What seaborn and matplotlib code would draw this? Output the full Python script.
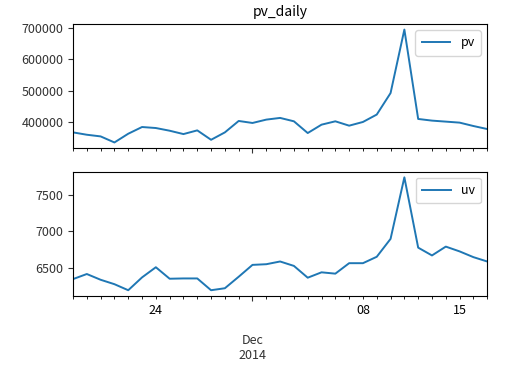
import numpy as np
import pandas as pd
import matplotlib
matplotlib.use("Agg")
import matplotlib.pyplot as plt
import matplotlib.dates as mdates
from matplotlib.ticker import FixedLocator, FixedFormatter
import seaborn as sns

dates = pd.date_range("2014-11-18", "2014-12-18", freq="D")
pv = [366800, 359300, 354000, 334700, 362500, 383900, 380700, 372100, 361400, 373200,
      343200, 366800, 403200, 396800, 407500, 412900, 402100, 364700, 391400, 402100,
      388200, 400000, 423600, 492100, 694500, 409600, 404300, 401100, 397900, 387100,
      377500]
uv = [6353, 6422, 6344, 6284, 6202, 6376, 6514, 6358, 6362, 6362,
      6202, 6229, 6385, 6546, 6555, 6592, 6532, 6372, 6445, 6427,
      6569, 6569, 6656, 6899, 7734, 6780, 6674, 6794, 6729, 6651,
      6592]
title = "pv_daily"
minor_labels = {"2014-11-24": "24", "2014-12-08": "08", "2014-12-15": "15"}
major_label = ("2014-12-01", "\n\nDec\n2014")

df = pd.DataFrame({"date": dates, "pv": pv, "uv": uv})

plt.rcParams["font.family"] = ["Noto Sans CJK SC", "DejaVu Sans"]
plt.rcParams["font.size"] = 9
plt.rcParams["axes.unicode_minus"] = False

fig, axes = plt.subplots(2, 1, figsize=(5.29, 3.68), dpi=100, sharex=True)
fig.subplots_adjust(left=0.138, right=0.921, top=0.935, bottom=0.196, hspace=0.19)

color = "#1f77b4"
for ax, col in zip(axes, ["pv", "uv"]):
    sns.lineplot(data=df, x="date", y=col, ax=ax, color=color, linewidth=1.4, label=col)
    ax.set_ylabel("")
    ax.legend(loc="upper right", fontsize=9, handlelength=2.3, borderpad=0.5)
    ax.tick_params(colors="#333333", labelcolor="#333333")

axes[0].set_title(title, fontsize=10)
axes[0].set_yticks([400000, 500000, 600000, 700000])
axes[1].set_yticks([6500, 7000, 7500])

ax = axes[1]
ax.set_xlim(dates[0], dates[-1])
day_nums = mdates.date2num(dates.to_pydatetime())
ax.xaxis.set_minor_locator(FixedLocator(day_nums))
minor_fmt = []
for d in dates:
    minor_fmt.append(minor_labels.get(d.strftime("%Y-%m-%d"), ""))
ax.xaxis.set_minor_formatter(FixedFormatter(minor_fmt))
maj = mdates.date2num(pd.Timestamp(major_label[0]).to_pydatetime())
ax.xaxis.set_major_locator(FixedLocator([maj]))
ax.xaxis.set_major_formatter(FixedFormatter([major_label[1]]))
ax.set_xlabel("")
for a in axes:
    a.tick_params(axis="x", which="minor", length=2, pad=3.5)
    a.tick_params(axis="x", which="major", length=3.5, pad=2)
axes[0].tick_params(axis="x", which="both", labelbottom=False)

fig.savefig("out.png", dpi=100)
